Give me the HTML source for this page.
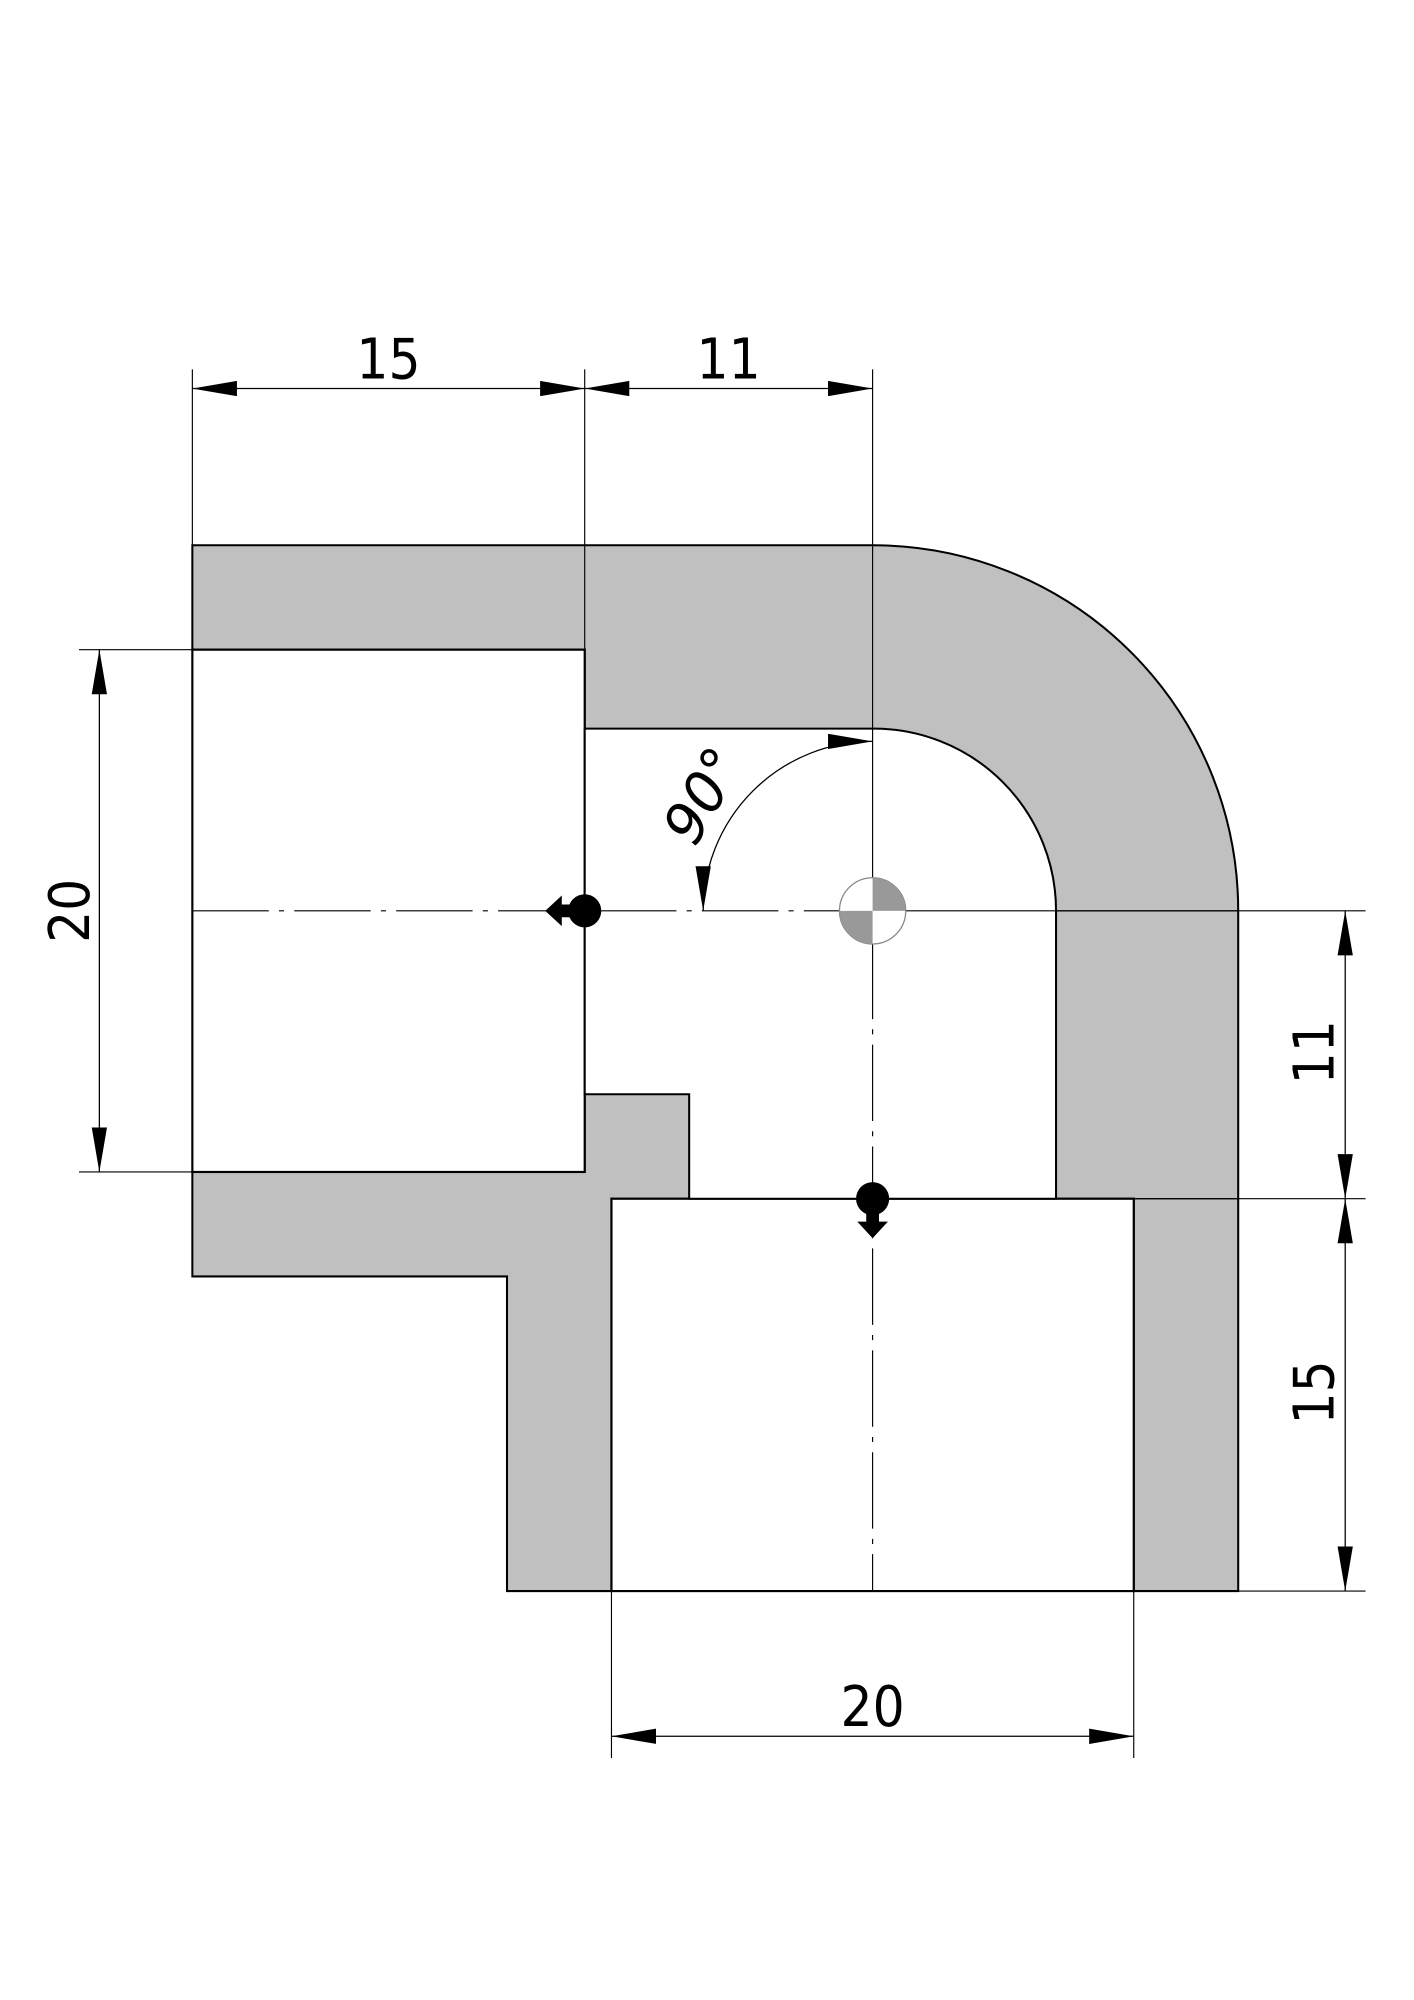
<!DOCTYPE html>
<html><head><meta charset="utf-8"><style>html,body{margin:0;padding:0;background:#fff}svg{display:block}</style></head>
<body>
<svg width="1414" height="2000" viewBox="0 0 1110 1570" xmlns="http://www.w3.org/2000/svg">
<defs>
<marker id="a" viewBox="0 0 35 12" refX="35" refY="6" markerWidth="35" markerHeight="12" markerUnits="userSpaceOnUse" orient="auto-start-reverse"><path d="M0,0 L35,6 L0,12 Z" fill="#000"/></marker>
</defs>
<path d="M151,428 H685 A287,287 0 0 1 972,715 V1249 H890 V941 H480 V1249 H398 V1002 H151 V920 H459 V510 H151 Z" fill="#c0c0c0" stroke="#000" stroke-width="1.6"/>
<rect x="151" y="510" width="308" height="410" fill="#fff" stroke="#000" stroke-width="1.7"/>
<rect x="480" y="941" width="410" height="308" fill="#fff" stroke="#000" stroke-width="1.7"/>
<path d="M459,572 H685 A143,143 0 0 1 829,715 V941 H541 V859 H459 Z" fill="#fff" stroke="#000" stroke-width="1.6"/>
<line x1="829" y1="715" x2="972" y2="715" stroke="#000" stroke-width="1"/>
<line x1="890" y1="941" x2="972" y2="941" stroke="#000" stroke-width="1"/>
<g stroke="#000" stroke-width="0.9">
<line x1="151" y1="290" x2="151" y2="428"/>
<line x1="459" y1="290" x2="459" y2="510"/>
<line x1="685" y1="290" x2="685" y2="690"/>
<line x1="62" y1="510" x2="151" y2="510"/>
<line x1="62" y1="920" x2="151" y2="920"/>
<line x1="710" y1="715" x2="1072" y2="715"/>
<line x1="890" y1="941" x2="1072" y2="941"/>
<line x1="972" y1="1249" x2="1072" y2="1249"/>
<line x1="480" y1="1249" x2="480" y2="1380"/>
<line x1="890" y1="1249" x2="890" y2="1380"/>
</g>
<g stroke="#000" stroke-width="1" marker-start="url(#a)" marker-end="url(#a)" fill="none">
<line x1="151" y1="305" x2="459" y2="305"/>
<line x1="459" y1="305" x2="685" y2="305"/>
<line x1="78" y1="510" x2="78" y2="920"/>
<line x1="1056" y1="715" x2="1056" y2="941"/>
<line x1="1056" y1="941" x2="1056" y2="1249"/>
<line x1="480" y1="1363" x2="890" y2="1363"/>
<path d="M685,582 A133,133 0 0 0 552,715"/>
</g>
<g stroke="#000" stroke-width="0.9" fill="none">
<line x1="151" y1="715" x2="660" y2="715" stroke-dasharray="60,8,4,8"/>
<line x1="685" y1="740" x2="685" y2="1249" stroke-dasharray="60,8,4,8"/>
</g>
<circle cx="685" cy="715" r="26" fill="#fff" stroke="#888" stroke-width="1"/>
<path d="M685,715 V689 A26,26 0 0 1 711,715 Z" fill="#999"/>
<path d="M685,715 V741 A26,26 0 0 1 659,715 Z" fill="#999"/>
<circle cx="459" cy="715" r="13" fill="#000"/>
<path d="M448,710 H441 V703 L428,715 L441,727 V720 H448 Z" fill="#000"/>
<circle cx="685" cy="941" r="13" fill="#000"/>
<path d="M680,952 V959 H673 L685,972 L697,959 H690 V952 Z" fill="#000"/>
<g font-family="DejaVu Sans, Liberation Sans, sans-serif" font-size="44" fill="#000" text-anchor="middle">
<text x="305" y="297" transform="translate(305 0) scale(0.9 1) translate(-305 0)">15</text>
<text x="572" y="297" transform="translate(572 0) scale(0.9 1) translate(-572 0)">11</text>
<text x="685" y="1355" transform="translate(685 0) scale(0.9 1) translate(-685 0)">20</text>
<text transform="translate(70 715) rotate(-90) scale(0.9 1)">20</text>
<text transform="translate(1047 826) rotate(-90) scale(0.9 1)">11</text>
<text transform="translate(1047 1093) rotate(-90) scale(0.9 1)">15</text>
<text transform="translate(565 632) rotate(-60)" font-style="italic">90°</text>
</g>
</svg>
</body></html>
